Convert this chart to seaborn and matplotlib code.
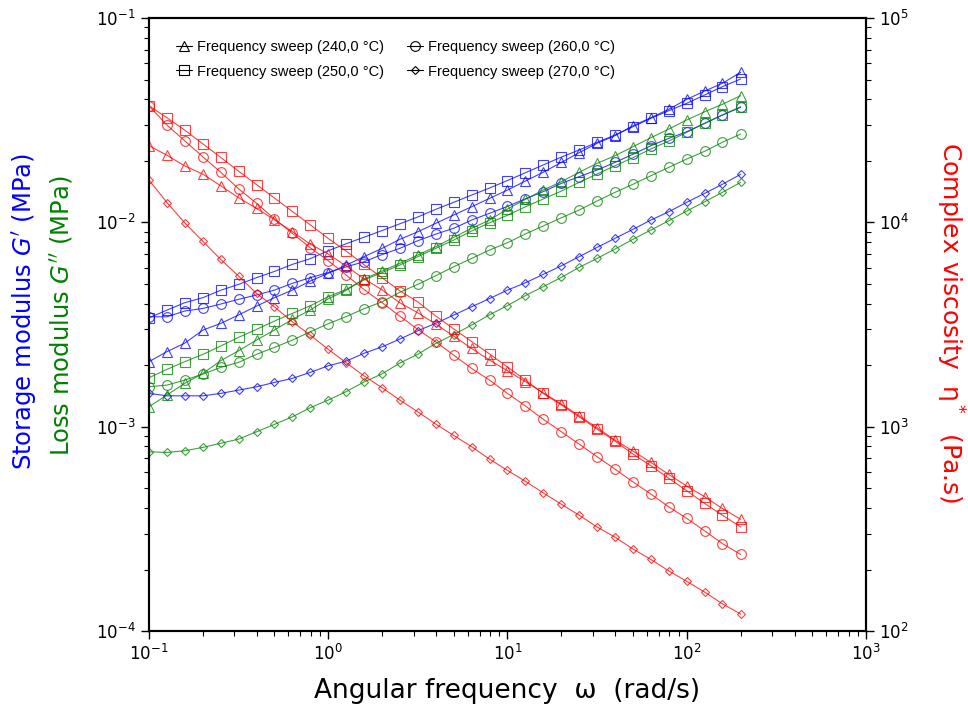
import numpy as np
import pandas as pd
import matplotlib
matplotlib.use("Agg")
import matplotlib.pyplot as plt
from matplotlib.lines import Line2D
import seaborn as sns

# Angular frequency (rad/s), 10 points per decade
freq = [0.1, 0.126, 0.158, 0.2, 0.251, 0.316, 0.398, 0.501, 0.631, 0.794,
        1.0, 1.26, 1.58, 2.0, 2.51, 3.16, 3.98, 5.01, 6.31, 7.94,
        10.0, 12.6, 15.8, 20.0, 25.1, 31.6, 39.8, 50.1, 63.1, 79.4,
        100.0, 126.0, 158.0, 200.0]

temps = ["240,0", "250,0", "260,0", "270,0"]

# Storage modulus G' (kPa, converted to MPa below)
gp_240 = [2.08, 2.33, 2.56, 2.97, 3.20, 3.52, 3.89, 4.28, 4.66, 5.16,
          5.63, 6.18, 6.79, 7.46, 8.26, 8.99, 9.89, 10.86, 11.92, 13.10,
          14.39, 15.93, 17.57, 19.66, 21.91, 24.36, 26.54, 29.70, 32.51, 35.73,
          39.99, 43.92, 47.9, 54.2]
gp_250 = [3.41, 3.72, 4.04, 4.28, 4.65, 4.97, 5.36, 5.75, 6.23, 6.64,
          7.26, 7.86, 8.45, 9.12, 9.84, 10.62, 11.58, 12.53, 13.60, 14.72,
          16.02, 17.49, 19.08, 20.88, 22.59, 24.64, 26.75, 29.37, 32.28, 35.17,
          38.23, 41.99, 46.1, 50.3]
gp_260 = [3.45, 3.45, 3.68, 3.79, 3.98, 4.20, 4.41, 4.66, 5.03, 5.36,
          5.68, 6.06, 6.41, 6.96, 7.46, 8.13, 8.76, 9.35, 10.26, 11.07,
          11.97, 13.04, 14.12, 15.52, 16.72, 18.03, 19.66, 21.52, 23.71, 25.77,
          27.77, 30.52, 33.50, 36.55]
gp_270 = [1.455, 1.416, 1.416, 1.416, 1.455, 1.510, 1.568, 1.647, 1.723, 1.844,
          1.986, 2.094, 2.284, 2.461, 2.684, 2.947, 3.204, 3.517, 3.862, 4.236,
          4.66, 5.06, 5.56, 6.13, 6.79, 7.54, 8.35, 9.24, 10.26, 11.27,
          12.53, 13.87, 15.35, 17.18]

# Loss modulus G'' (kPa)
gpp_240 = [1.252, 1.428, 1.629, 1.823, 2.102, 2.352, 2.653, 2.971, 3.351, 3.722,
           4.223, 4.648, 5.28, 5.78, 6.30, 6.92, 7.60, 8.44, 9.35, 10.26,
           11.62, 12.96, 14.39, 15.81, 17.57, 19.44, 21.18, 23.44, 25.94, 28.61,
           31.69, 34.78, 37.80, 41.66]
gpp_250 = [1.735, 1.908, 2.078, 2.259, 2.480, 2.736, 2.994, 3.288, 3.585, 3.906,
           4.324, 4.70, 5.22, 5.68, 6.18, 6.79, 7.46, 8.19, 9.07, 9.95,
           10.83, 11.92, 13.00, 14.23, 15.69, 17.24, 18.92, 20.72, 22.84, 25.00,
           27.57, 30.52, 33.50, 36.80]
gpp_260 = [1.568, 1.598, 1.690, 1.809, 1.951, 2.064, 2.259, 2.444, 2.653, 2.914,
           3.189, 3.458, 3.776, 4.088, 4.549, 4.97, 5.48, 6.06, 6.66, 7.32,
           7.95, 8.78, 9.59, 10.53, 11.49, 12.71, 14.02, 15.35, 16.91, 18.58,
           20.41, 22.28, 24.64, 27.05]
gpp_270 = [0.754, 0.748, 0.762, 0.792, 0.829, 0.869, 0.944, 1.026, 1.118, 1.238,
           1.350, 1.485, 1.653, 1.815, 2.048, 2.262, 2.556, 2.823, 3.143, 3.528,
           3.915, 4.383, 4.84, 5.38, 6.02, 6.66, 7.40, 8.26, 9.17, 10.18,
           11.36, 12.61, 14.02, 15.69]

# Complex viscosity eta* (Pa.s)
eta_240 = [23700, 21300, 18900, 17200, 15100, 13200, 11700, 10300, 9000, 7830,
           7000, 6110, 5300, 4670, 4040, 3610, 3175, 2775, 2415, 2118,
           1878, 1660, 1466, 1291, 1131, 988, 860, 760, 669, 584,
           512, 454, 398, 352]
eta_250 = [37200, 32500, 28300, 24200, 20800, 17800, 15300, 13150, 11300, 9720,
           8340, 7230, 6220, 5350, 4620, 4080, 3480, 3010, 2610, 2270,
           1960, 1690, 1456, 1276, 1118, 973, 850, 735, 644, 559,
           486, 421, 369, 323]
eta_260 = [37200, 29900, 25100, 20900, 17600, 14600, 12400, 10400, 8830, 7510,
           6490, 5520, 4700, 4040, 3475, 2990, 2604, 2240, 1928, 1690,
           1455, 1262, 1089, 944, 822, 713, 620, 537, 468, 405,
           356, 309, 268, 237]
eta_270 = [16100, 12500, 9960, 8070, 6590, 5460, 4490, 3860, 3260, 2805,
           2390, 2055, 1775, 1550, 1349, 1183, 1030, 906, 798, 694,
           611, 540, 475, 417, 369, 323, 288, 252, 224, 197,
           175, 155, 136, 121]

gp = [gp_240, gp_250, gp_260, gp_270]
gpp = [gpp_240, gpp_250, gpp_260, gpp_270]
eta = [eta_240, eta_250, eta_260, eta_270]

markers = ["^", "s", "o", "D"]
msizes = [6.5, 6.5, 7.0, 4.5]
blue, green, red = "#0000ff", "#008000", "#ff0000"

sns.set_style("ticks")
plt.rcParams["font.family"] = ["DejaVu Sans"]
plt.rcParams["axes.edgecolor"] = "black"
plt.rcParams["axes.labelcolor"] = "black"
plt.rcParams["text.color"] = "black"
plt.rcParams["xtick.color"] = "black"
plt.rcParams["ytick.color"] = "black"

fig = plt.figure(figsize=(9.68, 7.17), dpi=100)
ax = fig.add_axes([0.1539, 0.1199, 0.7407, 0.855])
ax2 = ax.twinx()
for a in (ax, ax2):
    a.set_xscale("log")
    a.set_yscale("log")


def draw(axis, values, color, scale=1.0):
    for vals, m, ms in zip(values, markers, msizes):
        df = pd.DataFrame({"freq": freq, "val": np.array(vals) * scale})
        sns.lineplot(data=df, x="freq", y="val", ax=axis, color=color,
                     marker=m, markersize=ms, markerfacecolor="none",
                     markeredgecolor=color, markeredgewidth=0.8,
                     linewidth=0.8, alpha=0.75, errorbar=None, legend=False)


draw(ax, gp, blue, 1e-3)
draw(ax, gpp, green, 1e-3)
draw(ax2, eta, red)

ax.set_xlim(0.1, 1000)
ax.set_ylim(1e-4, 1e-1)
ax2.set_ylim(1e2, 1e5)

for a in (ax, ax2):
    a.set_xlabel("")
    a.set_ylabel("")
    a.tick_params(which="major", direction="out", length=6, width=1,
                  labelsize=12, labelcolor="black")
    a.tick_params(which="minor", direction="out", length=3.5, width=0.8)
    for s in a.spines.values():
        s.set_linewidth(1.5)
        s.set_color("black")

ax.set_xlabel("Angular frequency  ω  (rad/s)", fontsize=19, labelpad=10,
              color="black")

fig.text(0.025, 0.566, "Storage modulus $G'$ (MPa)", rotation=90,
         color=blue, fontsize=17.5, ha="center", va="center")
fig.text(0.064, 0.559, "Loss modulus $G''$ (MPa)", rotation=90,
         color=green, fontsize=17.5, ha="center", va="center")
fig.text(0.981, 0.55, "Complex viscosity  η$^*$  (Pa.s)", rotation=-90,
         color=red, fontsize=18, ha="center", va="center")

handles = [Line2D([], [], color="black", lw=0.8, marker=m, markersize=ms,
                  markerfacecolor="none", markeredgewidth=0.8)
           for m, ms in zip(markers, msizes)]
labels = [f"Frequency sweep ({t} °C)" for t in temps]
ax2.legend(handles, labels, loc="upper left", bbox_to_anchor=(0.02, 0.985),
           ncol=2, frameon=False, handlelength=1.1, handletextpad=0.3,
           columnspacing=1.6, labelspacing=0.7,
           prop={"family": "Liberation Sans", "size": 10.5})

fig.savefig("out.png", dpi=100)
